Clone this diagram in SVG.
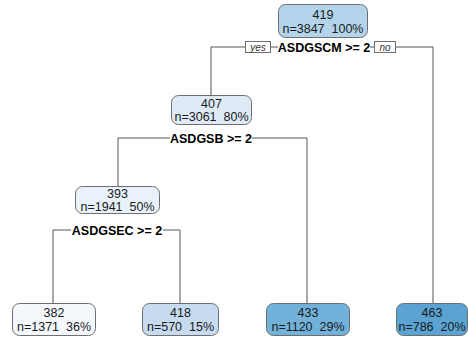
<svg xmlns="http://www.w3.org/2000/svg" width="468" height="341" viewBox="0 0 468 341">
<style>
.bg{fill:#fff}
.box{stroke:#6e6e6e;stroke-width:1}
.t{font-family:"Liberation Sans",Arial,sans-serif;font-size:12.5px;fill:#1a1a1a;text-anchor:middle}
.s{font-family:"Liberation Sans",Arial,sans-serif;font-size:12.5px;font-weight:bold;fill:#000;text-anchor:middle}
.yn{font-family:"Liberation Sans",Arial,sans-serif;font-size:10px;font-style:italic;fill:#333;text-anchor:middle}
.ynb{fill:#fff;stroke:#6e6e6e;stroke-width:1}
.e{fill:none;stroke:#555;stroke-width:1}
</style>
<rect class="bg" width="468" height="341"/>
<g id="connectors">
<path class="e" d="M211,95 V47 H433 V303"/>
<path class="e" d="M118,186 V138 H307 V303"/>
<path class="e" d="M53,303 V230 H180 V303"/>
</g>
<g id="split1">
<rect x="278" y="40" width="92" height="14" fill="#fff"/>
<text class="s" x="324" y="52">ASDGSCM &gt;= 2</text>
<rect class="ynb" x="245.5" y="41.5" width="25" height="11"/>
<text class="yn" x="258" y="50.5">yes</text>
<rect class="ynb" x="374.5" y="41.5" width="21" height="11"/>
<text class="yn" x="385" y="50.5">no</text>
</g>
<g id="split2">
<rect x="170" y="131" width="82" height="14" fill="#fff"/>
<text class="s" x="211" y="143">ASDGSB &gt;= 2</text>
</g>
<g id="split3">
<rect x="71" y="223" width="92" height="14" fill="#fff"/>
<text class="s" x="117" y="235">ASDGSEC &gt;= 2</text>
</g>
<g id="n1">
<rect class="box" x="278.5" y="4.5" width="89" height="33" rx="7" fill="#b3d4ea"/>
<text class="t" x="323" y="19">419</text>
<text class="t" x="323" y="33">n=3847&#160; 100%</text>
</g>
<g id="n2">
<rect class="box" x="171.5" y="95.5" width="80" height="29" rx="7" fill="#deebf7"/>
<text class="t" x="211.5" y="108">407</text>
<text class="t" x="211.5" y="121">n=3061&#160; 80%</text>
</g>
<g id="n3">
<rect class="box" x="75.5" y="186.5" width="84" height="27" rx="7" fill="#e9f2fa"/>
<text class="t" x="117.5" y="198">393</text>
<text class="t" x="117.5" y="211">n=1941&#160; 50%</text>
</g>
<g id="n4">
<rect class="box" x="12.5" y="303.5" width="83" height="32" rx="7" fill="#f4f8fd"/>
<text class="t" x="54" y="317">382</text>
<text class="t" x="54" y="331">n=1371&#160; 36%</text>
</g>
<g id="n5">
<rect class="box" x="142.5" y="303.5" width="76" height="32" rx="7" fill="#c6dbef"/>
<text class="t" x="180.5" y="317">418</text>
<text class="t" x="180.5" y="331">n=570&#160; 15%</text>
</g>
<g id="n6">
<rect class="box" x="266.5" y="303.5" width="83" height="32" rx="7" fill="#72b2da"/>
<text class="t" x="308" y="317">433</text>
<text class="t" x="308" y="331">n=1120&#160; 29%</text>
</g>
<g id="n7">
<rect class="box" x="396.5" y="303.5" width="71" height="32" rx="7" fill="#5aa3d2"/>
<text class="t" x="432" y="317">463</text>
<text class="t" x="432" y="331">n=786&#160; 20%</text>
</g>
</svg>
